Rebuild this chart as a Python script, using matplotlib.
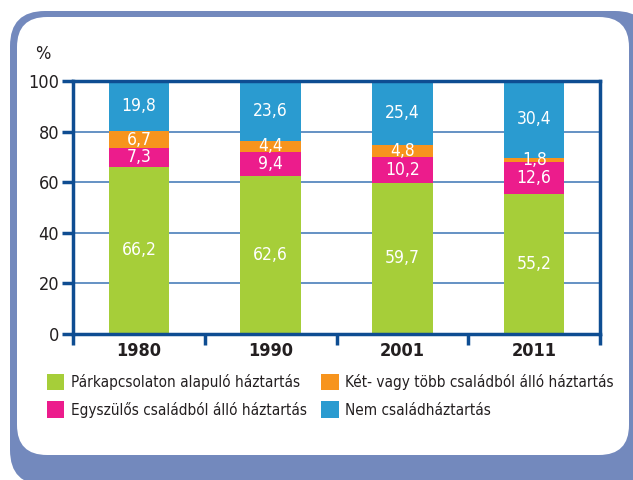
import matplotlib
matplotlib.use("Agg")
import matplotlib.pyplot as plt
from matplotlib.patches import FancyBboxPatch, Patch
from matplotlib.transforms import IdentityTransform
import numpy as np

plt.rcParams['font.family'] = ['DejaVu Sans']
plt.rcParams['font.stretch'] = 'condensed'

years = ['1980', '1990', '2001', '2011']
parkapcsolat = [66.2, 62.6, 59.7, 55.2]
egyszulos = [7.3, 9.4, 10.2, 12.6]
ket_tobb = [6.7, 4.4, 4.8, 1.8]
nem_csalad = [19.8, 23.6, 25.4, 30.4]

series = [parkapcsolat, egyszulos, ket_tobb, nem_csalad]
labels = ['Párkapcsolaton alapuló háztartás',
          'Egyszülős családból álló háztartás',
          'Két- vagy több családból álló háztartás',
          'Nem családháztartás']
colors = ['#a6ce39', '#ec1c8c', '#f7941d', '#2a9bd0']

dark = '#0e4d92'
text_col = '#231f20'

fig = plt.figure(figsize=(6.33, 4.8), dpi=100)

# rounded frame, drawn in pixels
fig.patches.append(FancyBboxPatch((10, -5), 640, 474, boxstyle='round,pad=0,rounding_size=35',
                                  transform=IdentityTransform(), facecolor='#7389bd',
                                  edgecolor='none', zorder=-2))
fig.patches.append(FancyBboxPatch((17, 25), 612, 438, boxstyle='round,pad=0,rounding_size=30',
                                  transform=IdentityTransform(), facecolor='white',
                                  edgecolor='none', zorder=-1))

ax = fig.add_axes([73 / 633, 1 - 334 / 480, (600 - 73) / 633, (334 - 81) / 480])
ax.set_facecolor('none')
ax.set_zorder(2)

x = np.arange(len(years))
bottom = np.zeros(len(years))
for vals, col in zip(series, colors):
    ax.bar(x, vals, width=0.46, bottom=bottom, color=col, zorder=2)
    for xi, b, v in zip(x, bottom, vals):
        ax.text(xi, b + v / 2, f'{v:.1f}'.replace('.', ','), ha='center', va='center',
                color='white', fontsize=12.5, zorder=3)
    bottom += np.array(vals)

ax.set_xlim(-0.5, 3.5)
ax.set_ylim(0, 100)
ax.set_yticks([0, 20, 40, 60, 80, 100])
ax.grid(axis='y', color='#4a7fba', linewidth=1.2, zorder=1)

ax.set_xticks(np.arange(-0.5, 4, 1))
ax.set_xticklabels([])
ax.set_xticks(x, minor=True)
ax.set_xticklabels(years, minor=True, fontsize=13, fontweight='bold', color=text_col)
ax.tick_params(axis='x', which='major', direction='out', length=8, width=2.5, color=dark)
ax.tick_params(axis='x', which='minor', length=0, pad=6)
ax.tick_params(axis='y', direction='out', length=8, width=2.5, color=dark,
               labelsize=13, labelcolor=text_col, pad=2)

for s in ax.spines.values():
    s.set_color(dark)
    s.set_linewidth(2.5)

fig.text(35 / 633, 1 - 54 / 480, '%', fontsize=13, color=text_col, va='center', ha='left')

handles = [Patch(facecolor=c, edgecolor='none') for c in colors]
fig.legend(handles, labels, ncol=2, loc='upper left', bbox_to_anchor=(33 / 633, 1 - 360 / 480),
           frameon=False, fontsize=11, handlelength=1.15, handleheight=1.3,
           handletextpad=0.45, labelspacing=0.7, columnspacing=0.9, labelcolor=text_col)

fig.savefig('out.png', dpi=100)
